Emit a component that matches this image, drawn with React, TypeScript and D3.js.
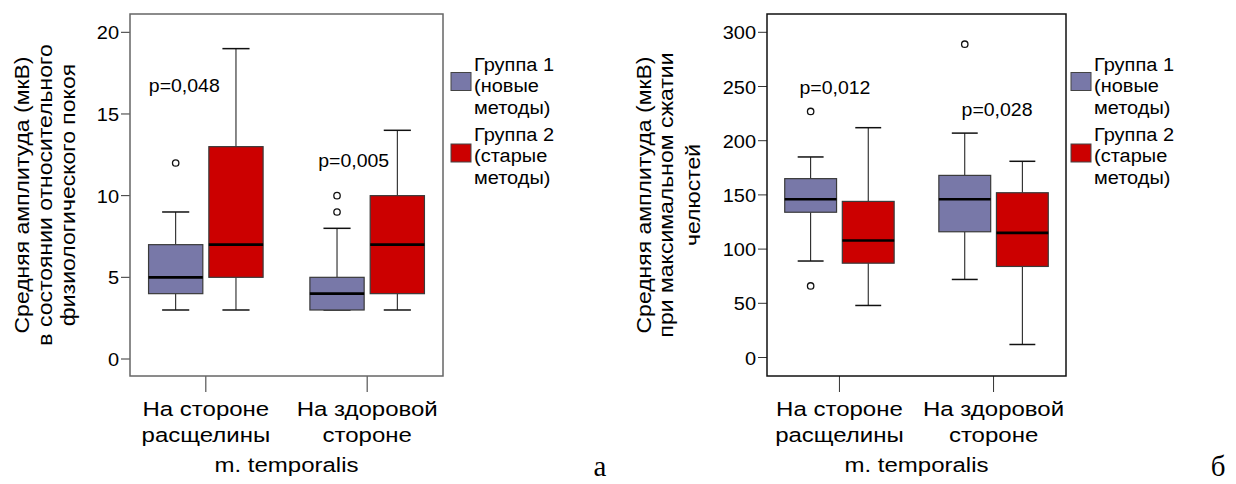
import React from 'react';
import * as d3 from 'd3';

// categories on the x axis (two lines each)
const categories = ['cleft', 'healthy'];
const categoryLines = [['На стороне', 'расщелины'], ['На здоровой', 'стороне']];
const groups = ['g1', 'g2'];
const groupColors = ['#7878a8', '#cc0000'];
const legendLines = [['Группа 1', '(новые', 'методы)'], ['Группа 2', '(старые', 'методы)']];

// [min, q1, median, q3, max] per category
const restGroup1 = [[3, 4, 5, 7, 9], [3, 3, 4, 5, 8]];
const restGroup2 = [[3, 5, 7, 13, 19], [3, 4, 7, 10, 14]];
const restOutliers1 = [[12], [9, 10]];
const restOutliers2 = [[], []];
const restTicks = [0, 5, 10, 15, 20];
const restP = ['p=0,048', 'p=0,005'];
const restPAt = [16.8, 12.2];
const restTitle = ['Средняя амплитуда (мкВ)', 'в состоянии относительного', 'физиологического покоя'];

const clenchGroup1 = [[89, 134, 146, 165, 185], [72, 116, 146, 168, 207]];
const clenchGroup2 = [[48, 87, 108, 144, 212], [12, 84, 115, 152, 181]];
const clenchOutliers1 = [[66, 227], [289]];
const clenchOutliers2 = [[], []];
const clenchTicks = [0, 50, 100, 150, 200, 250, 300];
const clenchP = ['p=0,012', 'p=0,028'];
const clenchPAt = [250, 229];
const clenchTitle = ['Средняя амплитуда (мкВ)', 'при максимальном сжатии', 'челюстей'];

const xTitle = 'm. temporalis';
const FONT = '"Liberation Sans", Arial, sans-serif';

function Txt({ x, y, size, k = 1, rot = 0, anchor = 'start', family = FONT, children }: any) {
  return (
    <text
      transform={`translate(${x},${y}) rotate(${rot}) scale(1,${k})`}
      fontSize={size}
      fontFamily={family}
      textAnchor={anchor}
      fill="#000"
    >
      {children}
    </text>
  );
}

function Panel({ cfg }: any) {
  const { x0, x1, top, bottom, domain, range, ticks, stats, outliers, p, pAt, pDx, title, titleX, legendX, frame, letter, letterX } = cfg;
  const x = d3.scalePoint().domain(categories).range([x0, x1]).padding(0.47);
  const step = x.step();
  const g = d3.scaleBand().domain(groups).range([-0.355 * step, 0.355 * step]).paddingInner(0.1);
  const y = d3.scaleLinear().domain(domain).range(range);
  const bw = g.bandwidth();
  const midY = (top + bottom) / 2;

  return (
    <g>
      {/* y ticks */}
      {ticks.map((t: number) => (
        <g key={t}>
          <line x1={x0 - 9} x2={x0} y1={y(t)} y2={y(t)} stroke="#333" />
          <Txt x={x0 - 11} y={y(t) + 7} size={20} k={0.93} anchor="end">{t}</Txt>
        </g>
      ))}
      {/* x ticks + labels */}
      {categories.map((c, i) => (
        <g key={c}>
          <line x1={x(c)} x2={x(c)} y1={bottom} y2={bottom + 16} stroke="#333" />
          {categoryLines[i].map((s, j) => (
            <Txt key={j} x={x(c)} y={416 + j * 26} size={24} k={0.87} anchor="middle">{s}</Txt>
          ))}
        </g>
      ))}
      <Txt x={(x0 + x1) / 2} y={472} size={24} k={0.87} anchor="middle">{xTitle}</Txt>
      {/* y title */}
      {title.map((s: string, j: number) => (
        <Txt key={j} x={titleX[j]} y={midY} size={23} k={0.87} rot={-90} anchor="middle">{s}</Txt>
      ))}
      {/* boxes */}
      {groups.map((gr, gi) =>
        categories.map((c, ci) => {
          const [mn, q1, md, q3, mx] = stats[gi][ci];
          const cx = (x(c) as number) + (g(gr) as number) + bw / 2;
          const left = cx - bw / 2;
          return (
            <g key={gr + c}>
              <line x1={cx} x2={cx} y1={y(mx)} y2={y(q3)} stroke="#111" />
              <line x1={cx} x2={cx} y1={y(q1)} y2={y(mn)} stroke="#111" />
              <line x1={cx - bw / 4} x2={cx + bw / 4} y1={y(mx)} y2={y(mx)} stroke="#111" strokeWidth={1.5} />
              <line x1={cx - bw / 4} x2={cx + bw / 4} y1={y(mn)} y2={y(mn)} stroke="#111" strokeWidth={1.5} />
              <rect x={left} y={y(q3)} width={bw} height={y(q1) - y(q3)} fill={groupColors[gi]} stroke="#3a3a3a" strokeWidth={1.2} />
              <line x1={left} x2={left + bw} y1={y(md)} y2={y(md)} stroke="#000" strokeWidth={2.6} />
              {outliers[gi][ci].map((o: number, oi: number) => (
                <circle key={oi} cx={cx} cy={y(o)} r={3.2} fill="#fff" stroke="#111" strokeWidth={1.3} />
              ))}
            </g>
          );
        })
      )}
      {/* p values */}
      {categories.map((c, i) => (
        <Txt key={c} x={(x(c) as number) + pDx[i]} y={y(pAt[i]) + 7} size={19.5} k={0.95}>{p[i]}</Txt>
      ))}
      {/* frame */}
      <rect x={x0} y={top} width={x1 - x0} height={bottom - top} fill="none" stroke={frame} strokeWidth={1.5} />
      {/* legend */}
      {groups.map((gr, gi) => (
        <g key={gr}>
          <rect x={legendX} y={72.5 + gi * 71.5} width={20} height={18} fill={groupColors[gi]} stroke="#444" strokeWidth={1} />
          {legendLines[gi].map((s, j) => (
            <Txt key={j} x={legendX + 23} y={70.5 + gi * 70 + j * 21.5} size={20} k={0.93}>{s}</Txt>
          ))}
        </g>
      ))}
      <Txt x={letterX} y={476} size={29} anchor="middle" family='"Liberation Serif", "Times New Roman", serif'>{letter}</Txt>
    </g>
  );
}

export default function App() {
  const left = {
    x0: 130, x1: 443, top: 14, bottom: 376,
    domain: [0, 20], range: [359, 32.3], ticks: restTicks,
    stats: [restGroup1, restGroup2], outliers: [restOutliers1, restOutliers2],
    p: restP, pAt: restPAt, pDx: [-57, -49],
    title: restTitle, titleX: [29, 52, 75],
    legendX: 451, frame: '#666', letter: 'а', letterX: 600,
  };
  const right = {
    x0: 767, x1: 1066, top: 14, bottom: 376,
    domain: [0, 300], range: [357.5, 32.3], ticks: clenchTicks,
    stats: [clenchGroup1, clenchGroup2], outliers: [clenchOutliers1, clenchOutliers2],
    p: clenchP, pAt: clenchPAt, pDx: [-40, -32],
    title: clenchTitle, titleX: [651, 673, 700],
    legendX: 1071, frame: '#111', letter: 'б', letterX: 1218,
  };
  return (
    <svg width={1236} height={484} style={{ position: 'absolute', left: 0, top: 0, background: '#fff' }}>
      <rect width={1236} height={484} fill="#fff" />
      <Panel cfg={left} />
      <Panel cfg={right} />
    </svg>
  );
}
